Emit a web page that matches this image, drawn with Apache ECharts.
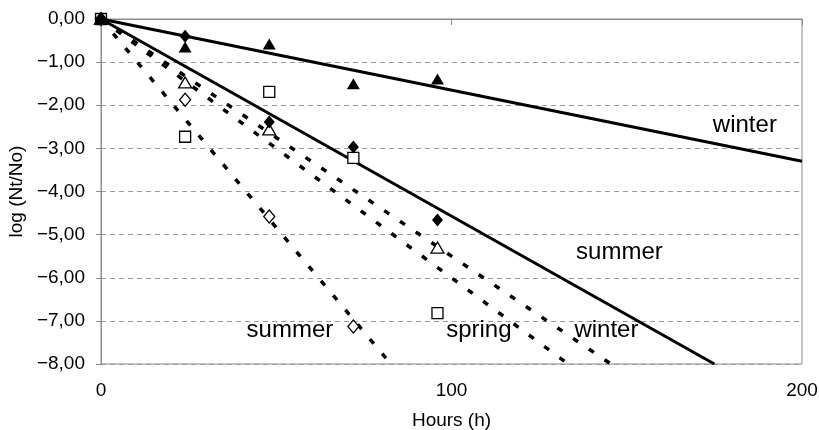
<!DOCTYPE html>
<html>
<head>
<meta charset="utf-8">
<script src="https://cdn.jsdelivr.net/npm/echarts@6/dist/echarts.min.js"></script>
<style>
html,body{margin:0;padding:0;background:#fff;}
#chart{width:819px;height:430px;}
</style>
</head>
<body>
<div id="chart"></div>
<script>
// ---- data ----
const hours = [0, 24, 48, 72, 96];
const winterFilledTriangle = [0, -0.65, -0.58, -1.5, -1.39];
const summerFilledDiamond = [0, -0.4, -2.39, -2.97, -4.66];
const openTriangle = [0, -1.47, -2.56, null, -5.3];
const openSquare = [0, -2.73, -1.69, -3.22, -6.82];
const openDiamond = [0, -1.87, -4.58, -7.13, null];

// regression lines: [hours, log] pairs
const fitWinterSolid = [[0, 0], [200, -3.3]];
const fitSummerSolid = [[0, 0], [175, -8]];
const fitSummerDotted = [[0, 0], [82.7, -8]];
const fitSpringDotted = [[0, 0], [133.3, -8]];
const fitWinterDotted = [[0, 0], [145.5, -8]];

// annotation labels (data coordinates)
const labelTexts = ['winter', 'summer', 'summer', 'spring', 'winter'];
const labelHours = [183.7, 147.9, 53.9, 107.8, 144.2];
const labelLogs = [-2.47, -5.41, -7.21, -7.21, -7.21];

const xTicks = [0, 100, 200];
const yMin = -8, yMax = 0;

// ---- build ----
const FONT = "'Liberation Sans', Arial, sans-serif";
const pair = arr => hours.map((h, i) => [h, arr[i]]);

function fitLine(data, dotted) {
  return {
    type: 'line', data: data, symbol: 'none', silent: true, z: 2,
    lineStyle: dotted
      ? { color: '#000', width: 3.5, type: [6, 13], cap: 'butt', opacity: 1 }
      : { color: '#000', width: 3, opacity: 1 }
  };
}
function markers(arr, symbol, size, filled) {
  return {
    type: 'scatter', data: pair(arr), symbol: symbol, symbolSize: size, z: 5,
    itemStyle: filled
      ? { color: '#000', borderColor: '#000', borderWidth: 0, opacity: 1 }
      : { color: '#fff', borderColor: '#000', borderWidth: 1.3, opacity: 1 }
  };
}

const chart = echarts.init(document.getElementById('chart'), null, { renderer: 'canvas' });
chart.setOption({
  animation: false,
  backgroundColor: '#fff',
  textStyle: { fontFamily: FONT },
  grid: {
    left: 101, right: 17, top: 19, bottom: 66, containLabel: false, outerBoundsMode: 'none',
    show: true, borderColor: '#8a8a8a', borderWidth: 1
  },
  xAxis: {
    type: 'value', min: xTicks[0], max: xTicks[xTicks.length - 1], interval: xTicks[1] - xTicks[0],
    name: 'Hours (h)', nameLocation: 'middle', nameGap: 47,
    nameTextStyle: { fontSize: 19, color: '#000', fontFamily: FONT },
    axisLine: { lineStyle: { color: '#8a8a8a', width: 1 } },
    axisTick: { show: true, length: 6, lineStyle: { color: '#8a8a8a' } },
    axisLabel: { fontSize: 19, color: '#000', margin: 17, fontFamily: FONT },
    splitLine: { show: false }
  },
  yAxis: {
    type: 'value', min: yMin, max: yMax, interval: 1,
    name: 'log (Nt/No)', nameLocation: 'middle', nameGap: 74, nameRotate: 90,
    nameTextStyle: { fontSize: 19, color: '#000', fontFamily: FONT },
    axisLine: { show: true, lineStyle: { color: '#8a8a8a', width: 1 } },
    axisTick: { show: true, length: 5, lineStyle: { color: '#8a8a8a' } },
    axisLabel: {
      fontSize: 19, color: '#000', margin: 16, fontFamily: FONT,
      formatter: v => (v < 0 ? '\u2212' : '') + Math.abs(v).toFixed(2).replace('.', ',')
    },
    splitLine: { show: true, lineStyle: { color: '#999', width: 1, type: [5, 4] } }
  },
  series: [
    fitLine(fitWinterSolid, false),
    fitLine(fitSummerSolid, false),
    fitLine(fitSummerDotted, true),
    fitLine(fitSpringDotted, true),
    fitLine(fitWinterDotted, true),
    markers(openSquare, 'rect', 11, false),
    markers(openTriangle, 'triangle', [13, 11], false),
    markers(openDiamond, 'diamond', [11, 13], false),
    markers(summerFilledDiamond, 'diamond', [11, 13], true),
    markers(winterFilledTriangle, 'triangle', [13, 11], true),
    {
      type: 'scatter', symbolSize: 0, silent: true, z: 6,
      itemStyle: { opacity: 1 },
      data: labelTexts.map((t, i) => ({ value: [labelHours[i], labelLogs[i]], name: t })),
      label: {
        show: true, position: 'inside', formatter: p => p.name,
        fontSize: 24, color: '#000', fontFamily: FONT
      }
    }
  ]
});
</script>
</body>
</html>
